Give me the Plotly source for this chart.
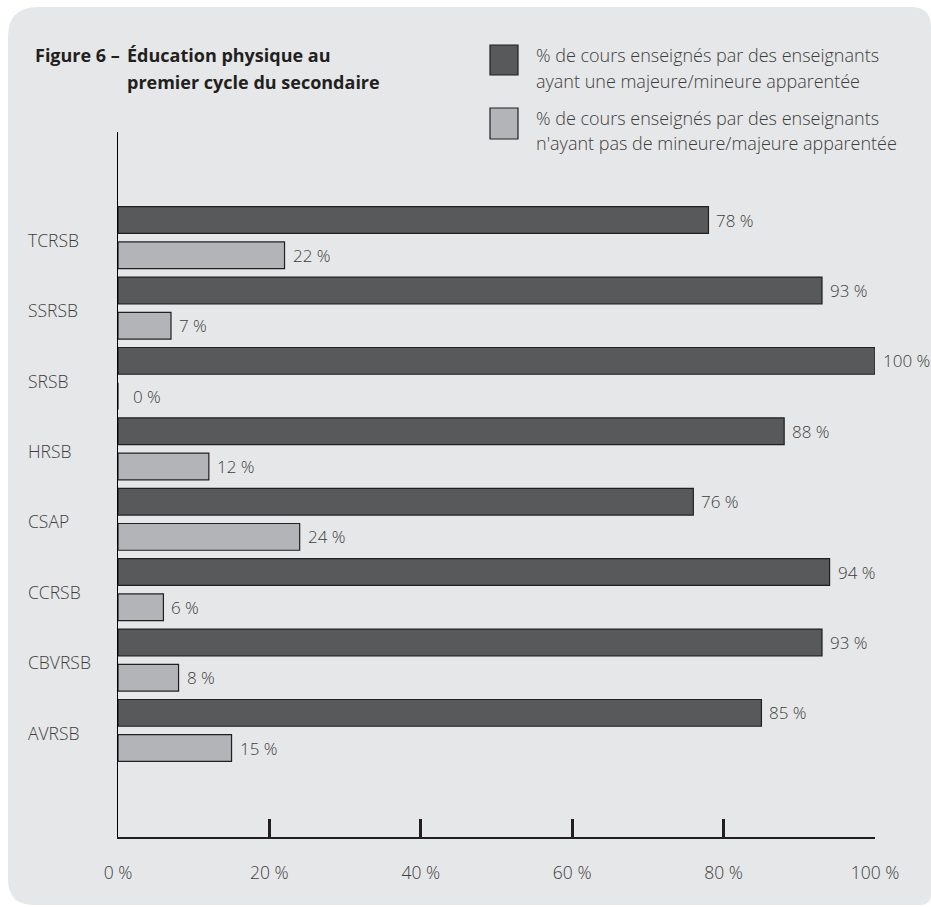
import plotly.graph_objects as go

# ---- data ----
categories = ["AVRSB", "CBVRSB", "CCRSB", "CSAP", "HRSB", "SRSB", "SSRSB", "TCRSB"]
with_major = [85, 93, 94, 76, 88, 100, 93, 78]
without_major = [15, 8, 6, 24, 12, 0, 7, 22]
x_ticks = [0, 20, 40, 60, 80, 100]
x_tick_labels = ["0 %", "20 %", "40 %", "60 %", "80 %", "100 %"]
legend_names = [
    ["% de cours enseignés par des enseignants", "ayant une majeure/mineure apparentée"],
    ["% de cours enseignés par des enseignants", "n'ayant pas de mineure/majeure apparentée"],
]
title_prefix = "Figure 6 –"
title_lines = ["Éducation physique au", "premier cycle du secondaire"]

# ---- geometry ----
W, H = 931, 907
L, R, T, B = 118, 56, 132, 70
PW, PH = W - L - R, H - T - B


def px(x):
    return (x - L) / PW


def py(y):
    return (H - B - y) / PH


DARK = "#58595b"
LIGHT = "#b2b4b7"
EDGE = "#231f20"
BG = "#e6e7e8"
TXT = "#3d3d3d"
FONT = "Open Sans"
LW = 300

pos = list(range(len(categories)))
off = 0.25
bw = 0.38

fig = go.Figure()
fig.add_trace(go.Bar(
    x=with_major, y=[p + off for p in pos], orientation="h", width=bw,
    marker=dict(color=DARK, line=dict(color=EDGE, width=1.2)),
    name=" ".join(legend_names[0]), showlegend=False, hoverinfo="x",
))
fig.add_trace(go.Bar(
    x=without_major, y=[p - off for p in pos], orientation="h", width=bw,
    marker=dict(color=LIGHT, line=dict(color=EDGE, width=1.2)),
    name=" ".join(legend_names[1]), showlegend=False, hoverinfo="x",
))

annotations = []
# value labels
for p, v in zip(pos, with_major):
    annotations.append(dict(x=v, y=p + off, xref="x", yref="y", text=f"{v} %",
                            showarrow=False, xanchor="left", xshift=6,
                            font=dict(family=FONT, size=17, color=TXT, weight=LW)))
for p, v in zip(pos, without_major):
    annotations.append(dict(x=v, y=p - off, xref="x", yref="y", text=f"{v} %",
                            showarrow=False, xanchor="left", xshift=13 if v == 0 else 6,
                            font=dict(family=FONT, size=17, color=TXT, weight=LW)))
# category labels (left aligned)
for p, c in zip(pos, categories):
    annotations.append(dict(x=px(26), y=p - 0.03, xref="paper", yref="y", text=c,
                            showarrow=False, xanchor="left",
                            font=dict(family=FONT, size=17.5, color=TXT, weight=LW)))
# title
annotations.append(dict(x=px(122), y=py(55), xref="paper", yref="paper", text=f"<b>{title_prefix}</b>",
                        showarrow=False, xanchor="right", yanchor="middle",
                        font=dict(family=FONT, size=18, color="#231f20")))
for i, line in enumerate(title_lines):
    annotations.append(dict(x=px(125), y=py(55 + 27 * i), xref="paper", yref="paper",
                            text=f"<b>{line}</b>", showarrow=False, xanchor="left", yanchor="middle",
                            font=dict(family=FONT, size=18, color="#231f20")))
# legend text
leg_y = [[55, 81], [118, 143]]
for names, ys in zip(legend_names, leg_y):
    for t, yy in zip(names, ys):
        annotations.append(dict(x=px(534), y=py(yy), xref="paper", yref="paper", text=t,
                                showarrow=False, xanchor="left", yanchor="middle",
                                font=dict(family=FONT, size=18, color=TXT, weight=LW)))

# background rounded rectangle
x0, x1, y0, y1 = 8, 931, 7, 905
r_tl, r_tr, r_br, r_bl = 30, 20, 10, 26


def P(x, y):
    return f"{px(x):.5f},{py(y):.5f}"


path = (f"M {P(x0 + r_tl, y0)} L {P(x1 - r_tr, y0)} Q {P(x1, y0)} {P(x1, y0 + r_tr)} "
        f"L {P(x1, y1 - r_br)} Q {P(x1, y1)} {P(x1 - r_br, y1)} "
        f"L {P(x0 + r_bl, y1)} Q {P(x0, y1)} {P(x0, y1 - r_bl)} "
        f"L {P(x0, y0 + r_tl)} Q {P(x0, y0)} {P(x0 + r_tl, y0)} Z")
shapes = [dict(type="path", path=path, xref="paper", yref="paper",
               fillcolor=BG, line=dict(width=0), layer="below")]
# legend squares
for (ya, yb), col in zip([(45, 75), (108, 139)], [DARK, LIGHT]):
    shapes.append(dict(type="rect", xref="paper", yref="paper",
                       x0=px(490), x1=px(518), y0=py(yb), y1=py(ya),
                       fillcolor=col, line=dict(color=EDGE, width=1.2)))

fig.update_layout(
    width=W, height=H,
    margin=dict(l=L, r=R, t=T, b=B, pad=0),
    paper_bgcolor="white", plot_bgcolor="rgba(0,0,0,0)",
    barmode="overlay",
    annotations=annotations, shapes=shapes,
    xaxis=dict(range=[0, 100], tickvals=x_ticks, ticktext=x_tick_labels,
               showgrid=False, zeroline=False, showline=True, linecolor=EDGE, linewidth=2,
               ticks="inside", ticklen=18, tickwidth=2.5, tickcolor=EDGE,
               ticklabelstandoff=19,
               tickfont=dict(family=FONT, size=17.5, color=TXT, weight=LW), fixedrange=True),
    yaxis=dict(range=[-1.513, 8.501], showgrid=False, zeroline=False, showline=True,
               linecolor="black", linewidth=1, showticklabels=False, ticks="", fixedrange=True),
    showlegend=False,
)

fig.write_html("out.html", config={"displayModeBar": False},
               post_script="document.body.style.margin='0';document.body.style.overflow='hidden';")
